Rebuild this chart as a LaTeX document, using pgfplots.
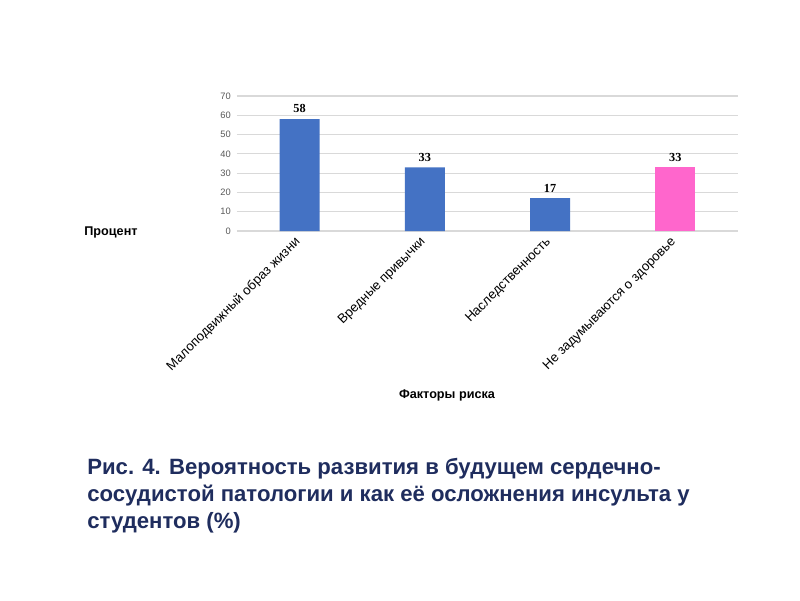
\documentclass[border=0pt]{standalone}
\usepackage{fontspec}
\setmainfont{Liberation Sans}
\newfontfamily\serifnum{Liberation Serif}
\usepackage{pgfplots}
\pgfplotsset{compat=1.18}
\definecolor{barblue}{RGB}{68,114,196}
\definecolor{barpink}{RGB}{255,102,204}
\definecolor{gridgray}{RGB}{217,217,217}
\definecolor{ticktxt}{RGB}{89,89,89}
\definecolor{navy}{RGB}{31,45,94}
\begin{document}
\begin{tikzpicture}
% page is 800x600 px, 1px = 0.02cm, axis origin at px (237,231)
\useasboundingbox (-4.74,-7.38) rectangle (11.26,4.62);
\fill[white] (-4.74,-7.38) rectangle (11.26,4.62);
\begin{axis}[
  at={(0,0)}, anchor=south west,
  width=10.02cm, height=2.7cm, scale only axis,
  ybar, bar width=0.8cm, bar shift=0pt,
  xmin=-0.5, xmax=3.5,
  ymin=0, ymax=70, ytick={0,10,...,70},
  xtick={0,1,2,3},
  xticklabels={Малоподвижный образ жизни,Вредные привычки,Наследственность,Не задумываются о здоровье},
  xticklabel style={rotate=45, anchor=east, font=\fontsize{7.5}{8}\selectfont, inner sep=1pt},
  yticklabel style={font=\fontsize{5.3}{6}\selectfont, text=ticktxt},
  /pgf/number format/assume math mode=true,
  axis line style={draw=none},
  major tick style={draw=none},
  ymajorgrids, grid style={gridgray, line width=0.6pt},
  nodes near coords,
  nodes near coords style={font=\serifnum\bfseries\fontsize{7}{8}\selectfont, text=black},
  clip=false,
]
\addplot[fill=barblue, draw=none] coordinates {(0,58) (1,33) (2,17)};
\addplot[fill=barpink, draw=none] coordinates {(3,33)};
\end{axis}
\node[font=\bfseries\fontsize{7.2}{8}\selectfont] at (-2.52,-0.03) {Процент};
\node[font=\bfseries\fontsize{7.2}{8}\selectfont] at (4.2,-3.28) {Факторы риска};
\node[anchor=west, align=left, text=navy, font=\bfseries\fontsize{12.6}{15.3}\selectfont, inner sep=0pt]
  at (-3.0,-5.29) {Рис. 4. Вероятность развития в будущем сердечно-\\сосудистой патологии и как её осложнения инсульта у\\студентов (\%)};
\end{tikzpicture}
\end{document}
